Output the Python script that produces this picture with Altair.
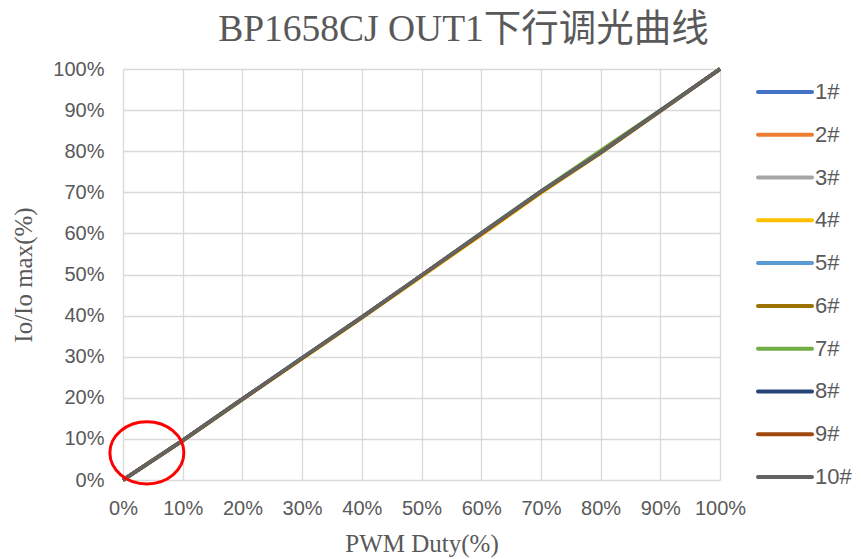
import altair as alt
import pandas as pd

# ---------------- data ----------------
duty = [0, 10, 20, 30, 40, 50, 60, 70, 80, 90, 100]
series_names = ["1#", "2#", "3#", "4#", "5#", "6#", "7#", "8#", "9#", "10#"]
series_colors = ["#4472C4", "#ED7D31", "#A5A5A5", "#FFC000", "#5B9BD5",
                 "#9E7200", "#70AD47", "#264478", "#9E480E", "#636363"]

s1 = [0, 9.6, 19.7, 29.7, 39.6, 49.8, 60.0, 70.2, 79.7, 89.8, 100]
s2 = [0, 9.6, 19.7, 29.6, 39.6, 49.7, 59.9, 70.1, 79.6, 89.8, 100]
s3 = [0, 9.6, 19.6, 29.6, 39.5, 49.7, 59.9, 70.1, 79.6, 89.7, 100]
s4 = [0, 9.5, 19.6, 29.5, 39.4, 49.5, 59.6, 69.8, 79.5, 89.7, 100]
s5 = [0, 9.6, 19.7, 29.7, 39.6, 49.8, 60.0, 70.2, 79.8, 89.8, 100]
s6 = [0, 9.6, 19.6, 29.6, 39.5, 49.7, 59.8, 70.0, 79.6, 89.8, 100]
s7 = [0, 9.7, 19.7, 29.7, 39.7, 49.8, 60.1, 70.3, 80.2, 90.0, 100]
s8 = [0, 9.6, 19.7, 29.7, 39.6, 49.8, 60.0, 70.2, 79.7, 89.9, 100]
s9 = [0, 9.6, 19.7, 29.6, 39.6, 49.8, 59.9, 70.1, 79.7, 89.8, 100]
s10 = [0, 9.6, 19.7, 29.7, 39.6, 49.8, 60.0, 70.2, 79.6, 89.8, 100]
all_series = [s1, s2, s3, s4, s5, s6, s7, s8, s9, s10]

# annotation ellipse centre (data units)
mark_duty = [4.0]
mark_io = [6.6]

rows = []
for name, vals in zip(series_names, all_series):
    for d, v in zip(duty, vals):
        rows.append({"series": name, "duty": d, "io": v})
df = pd.DataFrame(rows)

GRAY = "#595959"
SANS = "Liberation Sans"
SERIF = "Liberation Serif, Noto Sans CJK SC"

color_scale = alt.Scale(domain=series_names, range=series_colors)

x_enc = alt.X("duty:Q", scale=alt.Scale(domain=[0, 100], nice=False),
              axis=alt.Axis(values=duty, labelExpr="datum.value + '%'",
                            labelFlush=False, labelOverlap=False,
                            title="PWM Duty(%)", labelPadding=18, titlePadding=13))
y_enc = alt.Y("io:Q", scale=alt.Scale(domain=[0, 100], nice=False),
              axis=alt.Axis(values=duty, labelExpr="datum.value + '%'",
                            labelOverlap=False,
                            title="Io/Io max(%)", labelPadding=19, titlePadding=16))

layers = []
for name in series_names:
    layers.append(
        alt.Chart(df).transform_filter(alt.datum.series == name)
        .mark_line(strokeWidth=3.5)
        .encode(x=x_enc, y=y_enc,
                color=alt.Color("series:N", scale=color_scale, legend=None))
    )

ellipse_path = "M -1 0 A 1 0.838 0 1 0 1 0 A 1 0.838 0 1 0 -1 0 Z"
ann_df = pd.DataFrame({"duty": mark_duty, "io": mark_io})
ellipse = alt.Chart(ann_df).mark_point(
    shape=ellipse_path, size=74 * 74, filled=False, color="#FF0000",
    strokeWidth=3, opacity=1
).encode(x=x_enc, y=y_enc)

plot = alt.layer(*layers, ellipse)

leg_df = pd.DataFrame({"series": series_names})
leg_y = alt.Y("series:N", sort=series_names,
              scale=alt.Scale(type="point", range=[23, 408], padding=0),
              axis=None)
leg_rule = alt.Chart(leg_df).mark_rule(strokeWidth=4, strokeCap="round").encode(
    x=alt.value(635), x2=alt.value(689), y=leg_y,
    color=alt.Color("series:N", scale=color_scale, legend=None))
leg_text = alt.Chart(leg_df).mark_text(
    align="left", baseline="middle", font=SANS, fontSize=22, color=GRAY
).encode(x=alt.value(692), y=leg_y, text="series:N")
legend = alt.layer(leg_rule, leg_text)

chart = alt.layer(plot, legend).resolve_scale(y="independent").properties(
    width=597, height=411,
    autosize=alt.AutoSizeParams(type="none"),
    padding={"left": 115, "top": 61, "right": 133, "bottom": 79},
    title=alt.TitleParams(
        "BP1658CJ OUT1下行调光曲线", font=SERIF, fontSize=37.5,
        fontWeight="normal", color=GRAY, anchor="middle",
        baseline="alphabetic", offset=-19, dx=42),
).configure_view(strokeWidth=0).configure_axis(
    gridColor="#D9D9D9", gridWidth=1.3, domain=False, ticks=False,
    labelFont=SANS, labelFontSize=20, labelColor=GRAY,
    titleFont=SERIF, titleFontSize=25, titleColor=GRAY, titleFontWeight="normal"
)

chart.save("out.html", embed_options={"renderer": "svg", "actions": False})
